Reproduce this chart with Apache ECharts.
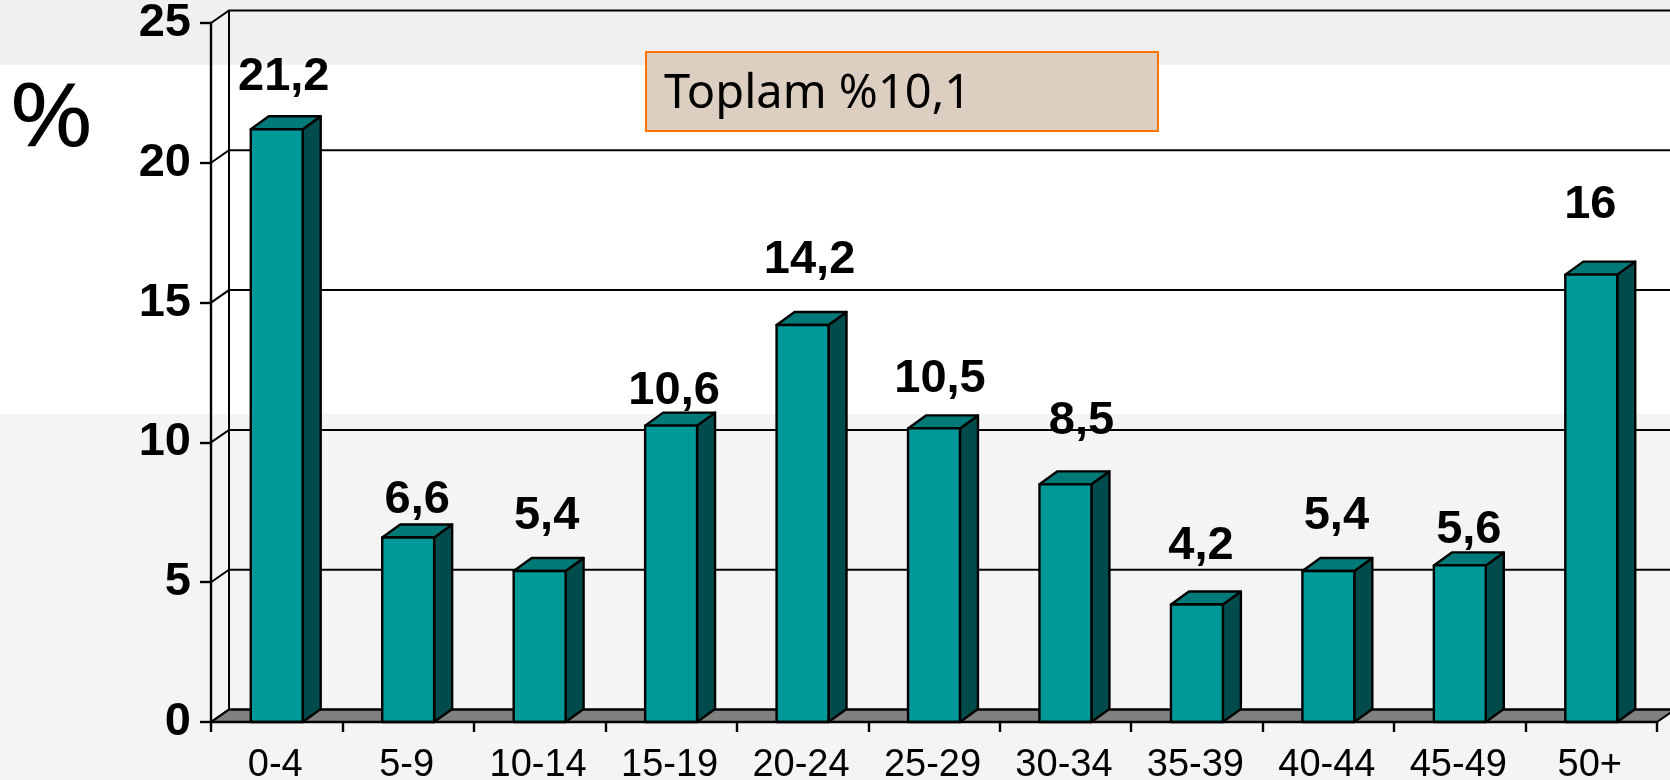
<!DOCTYPE html>
<html>
<head>
<meta charset="utf-8">
<title>Chart</title>
<style>
  html, body { margin: 0; padding: 0; background: #fff; }
  #chart { width: 1670px; height: 780px; }
</style>
<script src="https://cdn.jsdelivr.net/npm/echarts@6/dist/echarts.min.js"></script>
</head>
<body>
<div id="chart"></div>
<script>
const categories = ['0-4', '5-9', '10-14', '15-19', '20-24', '25-29', '30-34', '35-39', '40-44', '45-49', '50+']
const values = [21.2, 6.6, 5.4, 10.6, 14.2, 10.5, 8.5, 4.2, 5.4, 5.6, 16]
const yTicks = [0, 5, 10, 15, 20, 25]

// hand placed data labels in the original: [dx, lift] from the bar's top centre
const labelOffsets = [[7, 52], [9, 37], [7, 55], [3, 35], [7, 65], [6, 49], [16, 63], [4, 59], [8, 55], [9, 35], [-1, 70]]

const depthX = 18
const depthY = 13
const wallDepthY = 12.5
const barRatio = 0.395
const labelFont = '"Liberation Sans", Arial, sans-serif'

const chart = echarts.init(document.getElementById('chart'))

// floor + back wall + gridlines
function renderFrame(params, api) {
  const v = api.value(0)
  const sys = params.coordSys
  const left = sys.x
  const right = sys.x + sys.width
  const y = api.coord([0, v])[1]
  const children = [{
    type: 'polyline',
    shape: { points: [[left, y], [left + depthX, y - wallDepthY], [right + depthX + 5, y - wallDepthY]] },
    style: { stroke: '#000', lineWidth: 2, fill: null }
  }]
  if (v === 0) {
    const top = api.coord([0, yTicks[yTicks.length - 1]])[1]
    children.unshift({
      type: 'polygon',
      shape: { points: [[left, y], [left + depthX, y - wallDepthY], [right + depthX, y - wallDepthY], [right, y]] },
      style: { fill: '#808080', stroke: '#000', lineWidth: 2 }
    })
    children.push({
      type: 'line',
      shape: { x1: left + depthX, y1: y - wallDepthY, x2: left + depthX, y2: top - wallDepthY },
      style: { stroke: '#000', lineWidth: 2 }
    })
  }
  return { type: 'group', children }
}

function renderBar(params, api) {
  const i = api.value(0)
  const v = api.value(1)
  const top = api.coord([i, v])
  const base = api.coord([i, 0])
  const w = api.size([1, 0])[0] * barRatio
  const x0 = top[0] - w / 2
  const x1 = top[0] + w / 2
  const edge = { stroke: '#000', lineWidth: 2.4, lineJoin: 'round' }
  const off = labelOffsets[i]
  return {
    type: 'group',
    children: [{
      type: 'polygon',
      shape: { points: [[x1, top[1]], [x1 + depthX, top[1] - depthY], [x1 + depthX, base[1] - depthY], [x1, base[1]]] },
      style: Object.assign({ fill: '#004c4c' }, edge)
    }, {
      type: 'polygon',
      shape: { points: [[x0, top[1]], [x0 + depthX, top[1] - depthY], [x1 + depthX, top[1] - depthY], [x1, top[1]]] },
      style: Object.assign({ fill: '#007a78' }, edge)
    }, {
      type: 'rect',
      shape: { x: x0, y: top[1], width: w, height: base[1] - top[1] },
      style: Object.assign({ fill: '#009999' }, edge)
    }, {
      type: 'text',
      style: {
        text: String(v).replace('.', ','),
        x: top[0] + off[0],
        y: top[1] - off[1],
        align: 'center',
        verticalAlign: 'middle',
        fontFamily: labelFont,
        fontWeight: 'bold',
        fontSize: 47,
        fill: '#000'
      }
    }]
  }
}

chart.setOption({
  animation: false,
  backgroundColor: '#fff',
  graphic: [
    { type: 'rect', z: -10, shape: { x: 0, y: 0, width: 1670, height: 65 }, style: { fill: '#f0f0f2' } },
    { type: 'rect', z: -10, shape: { x: 0, y: 414, width: 1670, height: 366 }, style: { fill: '#f4f4f4' } },
    {
      type: 'text', z: 5, x: 9, y: 77, scaleX: 1.16,
      style: { text: '%', fontFamily: '"Noto Sans", sans-serif', fontSize: 88, fill: '#000' }
    },
    {
      type: 'rect', z: 5,
      shape: { x: 646, y: 52, width: 512, height: 79 },
      style: { fill: '#dccfc1', stroke: '#ff7300', lineWidth: 2 }
    },
    {
      type: 'text', z: 6, x: 664, y: 95,
      style: { text: 'Toplam %10,1', fontFamily: '"Noto Sans", sans-serif', fontSize: 47, fill: '#000', verticalAlign: 'middle' }
    }
  ],
  grid: { left: 211, right: 13, top: 23, bottom: 58, outerBoundsMode: 'none' },
  xAxis: {
    type: 'category',
    data: categories,
    z: 5,
    axisLine: { lineStyle: { color: '#000', width: 2.4 } },
    axisTick: { show: true, length: 10, alignWithLabel: false, lineStyle: { color: '#000', width: 2.4 } },
    axisLabel: { interval: 0, color: '#000', fontFamily: labelFont, fontSize: 38, margin: 25, padding: [0, 3, 0, 0] }
  },
  yAxis: {
    type: 'value',
    min: 0,
    max: 25,
    interval: 5,
    z: 5,
    axisLine: { show: true, lineStyle: { color: '#000', width: 2.4 } },
    axisTick: { show: true, length: 11, lineStyle: { color: '#000', width: 2.4 } },
    axisLabel: { color: '#000', fontFamily: labelFont, fontWeight: 'bold', fontSize: 47, margin: 20, padding: [8, 0, 0, 0] },
    splitLine: { show: false }
  },
  series: [{
    type: 'custom',
    z: 1,
    silent: true,
    renderItem: renderFrame,
    encode: { y: 0 },
    data: yTicks.map(v => [v])
  }, {
    type: 'custom',
    z: 2,
    renderItem: renderBar,
    encode: { x: 0, y: 1 },
    data: values.map((v, i) => [i, v])
  }]
})
</script>
</body>
</html>
